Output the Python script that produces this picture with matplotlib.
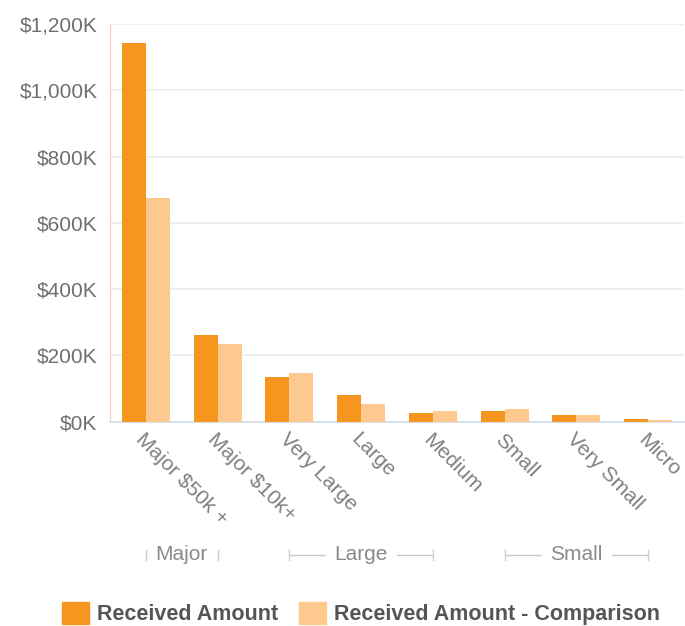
import matplotlib

matplotlib.use('Agg')
import matplotlib.pyplot as plt
import matplotlib.transforms as mtransforms
from matplotlib.patches import Patch
import numpy as np

# received amounts by donor band, in $K
categories = ['Major $50k +', 'Major $10k+', 'Very Large', 'Large',
              'Medium', 'Small', 'Very Small', 'Micro']
received = [1142, 263, 136, 81, 25, 33, 20, 7]
comparison = [674, 235, 148, 53, 32, 37, 20, 5]

# band groups: (label, first category index, last category index)
groups = [('Major', 0, 1), ('Large', 2, 4), ('Small', 5, 7)]

y_ticks = [0, 200, 400, 600, 800, 1000, 1200]
y_tick_labels = ['$0K', '$200K', '$400K', '$600K', '$800K', '$1,000K', '$1,200K']

DARK = '#F7961E'
LIGHT = '#FDC98E'
TEXT = '#6f6f6f'

plt.rcParams['font.family'] = ['Liberation Sans', 'DejaVu Sans']


def main():
    fig = plt.figure(figsize=(6.85, 6.26), dpi=100)
    ax = fig.add_axes([0.1606, 0.3264, 0.838, 0.6353])

    x = np.arange(len(categories))
    w = 1 / 3
    ax.bar(x - w / 2, received, width=w, color=DARK, zorder=3)
    ax.bar(x + w / 2, comparison, width=w, color=LIGHT, zorder=3)

    ax.set_xlim(-0.5, len(categories) - 0.5)
    ax.set_ylim(0, 1200)
    ax.set_yticks(y_ticks)
    ax.set_yticklabels(y_tick_labels)
    ax.tick_params(axis='y', length=0, pad=9, labelsize=15, labelcolor=TEXT)
    ax.grid(axis='y', color='#ececec', linewidth=1.2, zorder=0)

    ax.set_xticks(x)
    ax.set_xticklabels(categories, rotation=-45, ha='left',
                       rotation_mode='anchor')
    ax.tick_params(axis='x', length=0, pad=6, labelsize=15, labelcolor='#808080')

    for side in ('top', 'right'):
        ax.spines[side].set_visible(False)
    ax.spines['left'].set_color('#f5cdb8')
    ax.spines['bottom'].set_color('#cfdcea')
    ax.spines['bottom'].set_linewidth(1.2)

    # group brackets under the tick labels
    trans = mtransforms.blended_transform_factory(ax.transData, ax.transAxes)
    y_grp = -0.335
    half = 0.5  # gap left for the group name
    for name, i0, i1 in groups:
        mid = (i0 + i1) / 2
        ax.text(mid, y_grp, name, transform=trans, ha='center', va='center',
                fontsize=15, color='#8a8a8a', clip_on=False)
        for a, b in ((i0, mid - half), (mid + half, i1)):
            if b > a:
                ax.plot([a, b], [y_grp, y_grp], transform=trans, color='#c8c8c8',
                        linewidth=1, clip_on=False)
        for e in (i0, i1):
            ax.plot([e, e], [y_grp - 0.012, y_grp + 0.012], transform=trans,
                    color='#d0d0d0', linewidth=1, clip_on=False)

    handles = [Patch(color=DARK, label='Received Amount'),
               Patch(color=LIGHT, label='Received Amount - Comparison')]
    leg = fig.legend(handles=handles, loc='center', bbox_to_anchor=(0.527, 0.02),
                     ncol=2, frameon=False, handlelength=1.25, handleheight=1.25,
                     handletextpad=0.35, columnspacing=1.0,
                     prop={'size': 15.5, 'weight': 'bold'})
    for t in leg.get_texts():
        t.set_color('#555555')

    fig.savefig('out.png', dpi=100, facecolor='white')


if __name__ == '__main__':
    main()
